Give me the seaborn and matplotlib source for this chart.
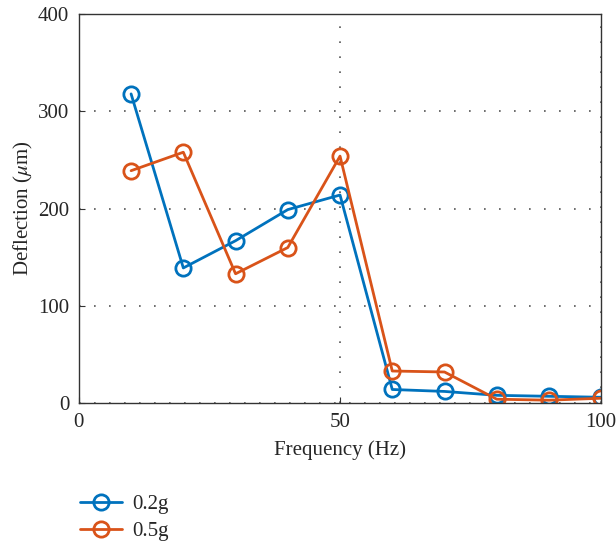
import numpy as np
import pandas as pd
import matplotlib
matplotlib.use("Agg")
import matplotlib.pyplot as plt
import seaborn as sns

# Frekans (Hz) ve sehim (um) degerleri
frekans = [10, 20, 30, 40, 50, 60, 70, 80, 90, 100]
sehim_02g = [318, 139, 167, 199, 214, 14, 12, 8, 7, 6]
sehim_05g = [239, 258, 133, 160, 254, 33, 32, 4, 3, 5]
etiketler = ["0.2g", "0.5g"]
renkler = ["#0072BD", "#D95319"]

sns.set_style("ticks")
plt.rcParams['font.family'] = ['Liberation Serif', 'DejaVu Serif']
plt.rcParams['mathtext.fontset'] = 'stix'

fig = plt.figure(figsize=(6.16, 5.44), dpi=100)
ax = fig.add_axes([0.128, 0.259, 0.848, 0.715])

for seri, etiket, renk in zip([sehim_02g, sehim_05g], etiketler, renkler):
    df = pd.DataFrame({"Frekans": frekans, "Sehim": seri})
    sns.lineplot(data=df, x="Frekans", y="Sehim", ax=ax, color=renk, label=etiket,
                 marker="o", markersize=11, markerfacecolor="none",
                 markeredgecolor=renk, markeredgewidth=2, linewidth=2)

ax.set_xlim(0, 100)
ax.set_ylim(0, 400)
ax.set_xticks([0, 50, 100])
ax.set_yticks([0, 100, 200, 300, 400])
ax.grid(True, linestyle=(0, (1, 8)), color="#555555", linewidth=1.2)
ax.tick_params(direction="in", labelsize=15, length=4, pad=7, color="#333333")
for s in ax.spines.values():
    s.set_color("#333333")
    s.set_linewidth(1)
ax.set_xlabel("Frequency (Hz)", fontsize=15, labelpad=6)
ax.set_ylabel(r"Deflection ($\mu$m)", fontsize=15, labelpad=2)

ax.get_legend().remove()
h, l = ax.get_legend_handles_labels()
fig.legend(h, l, loc="upper left", bbox_to_anchor=(0.1, 0.125), frameon=False,
           fontsize=15, handlelength=2.0, labelspacing=0.35, handletextpad=0.5)

fig.savefig("out.png", dpi=100)
